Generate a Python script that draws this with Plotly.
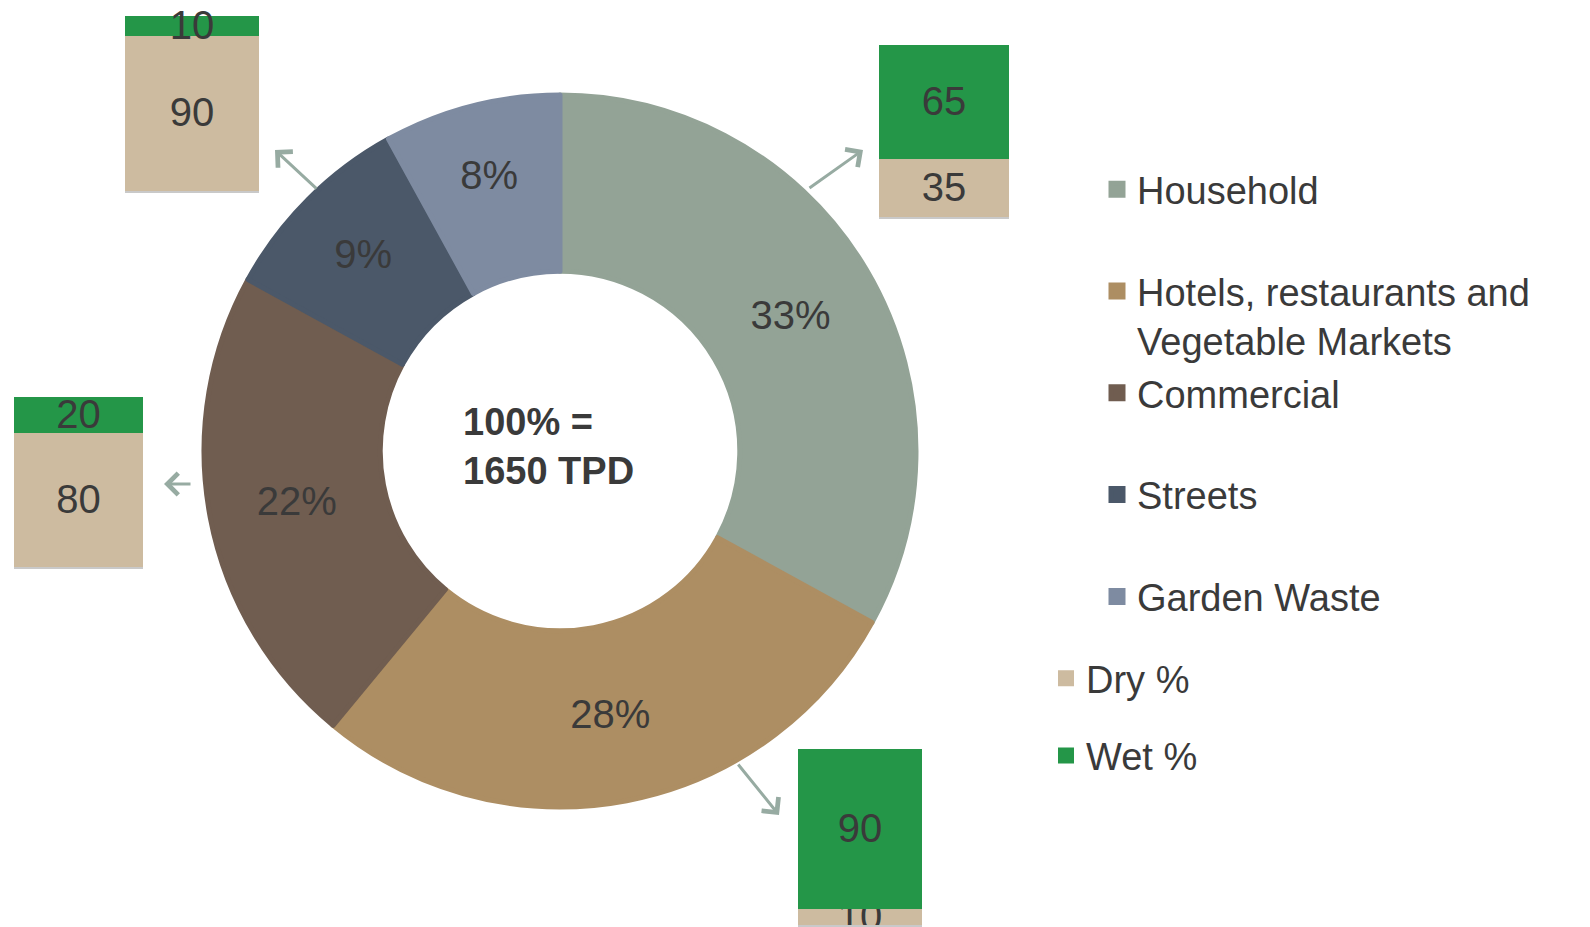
import plotly.graph_objects as go

# ---- data ----
legend_labels = ["Household<br> ", "Hotels, restaurants and<br>Vegetable Markets", "Commercial<br> ", "Streets<br> ", "Garden Waste<br> "]
shares = [33, 28, 22, 9, 8]
slice_colors = ["#93A396", "#AD8E63", "#705D50", "#4B5869", "#7E8BA1"]

box_sources = ["Streets", "Household", "Commercial", "Hotels"]
dry_pct = [90, 35, 80, 10]
wet_pct = [10, 65, 20, 90]
dry_color = "#CDBBA0"
wet_color = "#249648"

center_text = "<b>100% =<br>1650 TPD</b>"

W, H = 1590, 927
OFF = 8  # page body margin
FONT = "Liberation Sans, Arial, sans-serif"
TXT = "#3A3A3A"


def px(x):
    return (x - OFF) / W


def py(y):
    return (H - (y - OFF)) / H


fig = go.Figure()

cx, cy, r = 560, 451, 356
fig.add_trace(go.Pie(
    labels=legend_labels, values=shares, sort=False, direction="clockwise", rotation=0,
    hole=0.505, marker=dict(colors=slice_colors, line=dict(width=5, color=slice_colors)),
    textinfo="percent", textposition="inside", insidetextorientation="horizontal",
    textfont=dict(size=40, color=TXT, family=FONT),
    domain=dict(x=[px(cx - r), px(cx + r)], y=[py(cy + r), py(cy - r)]),
    legend="legend", hoverinfo="label+percent",
))

# box positions in pixel (left, right, top, bottom)
boxes = [(125, 259, 16, 191), (879, 1009, 45, 217), (14, 143, 397, 567), (798, 922, 749, 925)]
LW = 4

for i, (x0, x1, y0, y1) in enumerate(boxes):
    n = i + 2
    xa, ya = f"x{n}", f"y{n}"
    common = dict(texttemplate="%{y}", textposition="inside", insidetextanchor="middle",
                  constraintext="none", textangle=0, cliponaxis=False,
                  textfont=dict(size=40, color=TXT, family=FONT),
                  xaxis=xa, yaxis=ya, width=1, legend="legend2", showlegend=(i == 0))
    fig.add_trace(go.Bar(
        x=[box_sources[i]], y=[dry_pct[i]], name="Dry %",
        marker=dict(color=dry_color, line=dict(width=LW, color=dry_color)),
        legendgroup="dry", **common))
    fig.add_trace(go.Bar(
        x=[box_sources[i]], y=[wet_pct[i]], name="Wet %",
        marker=dict(color=wet_color, line=dict(width=LW, color=wet_color)),
        legendgroup="wet", **common))
    fig.update_layout(**{
        f"xaxis{n}": dict(domain=[px(x0), px(x1)], anchor=ya, showticklabels=False, showgrid=False,
                          zeroline=False, showline=True, linecolor="#C9C9C9", linewidth=2,
                          range=[-0.51, 0.51], fixedrange=True),
        f"yaxis{n}": dict(domain=[py(y1), py(y0)], anchor=xa, showticklabels=False,
                          showgrid=False, zeroline=False, range=[0, 100], fixedrange=True),
    })

# arrows: (head x, head y, tail dx, tail dy) in pixels
arrows = [(863, 150, -55, 39), (275, 150, 43, 40), (164, 484, 28, 0), (779, 815, -42, -52)]
for hx, hy, dx, dy in arrows:
    fig.add_annotation(x=px(hx), y=py(hy), xref="paper", yref="paper", ax=dx, ay=dy,
                       showarrow=True, arrowhead=4, arrowsize=1.4, arrowwidth=3,
                       arrowcolor="#97ABA2", text="")

fig.add_annotation(x=px(461), y=py(447), xref="paper", yref="paper", text=center_text,
                   showarrow=False, xanchor="left", yanchor="middle", align="left",
                   font=dict(size=38, color=TXT, family=FONT))

fig.update_layout(
    width=W, height=H, margin=dict(l=0, r=0, t=0, b=0),
    paper_bgcolor="white", plot_bgcolor="white", barmode="stack",
    font=dict(family=FONT, color=TXT),
    xaxis=dict(visible=False), yaxis=dict(visible=False),
    legend=dict(x=px(1097), y=py(158), xanchor="left", yanchor="top", valign="top",
                font=dict(size=38, color=TXT, family=FONT), bgcolor="rgba(0,0,0,0)",
                itemclick=False, itemdoubleclick=False),
    legend2=dict(x=px(1046), y=py(647), xanchor="left", yanchor="top",
                 traceorder="grouped", tracegroupgap=25,
                 font=dict(size=38, color=TXT, family=FONT), bgcolor="rgba(0,0,0,0)",
                 itemclick=False, itemdoubleclick=False),
    showlegend=True,
)

fig.write_html("out.html")
